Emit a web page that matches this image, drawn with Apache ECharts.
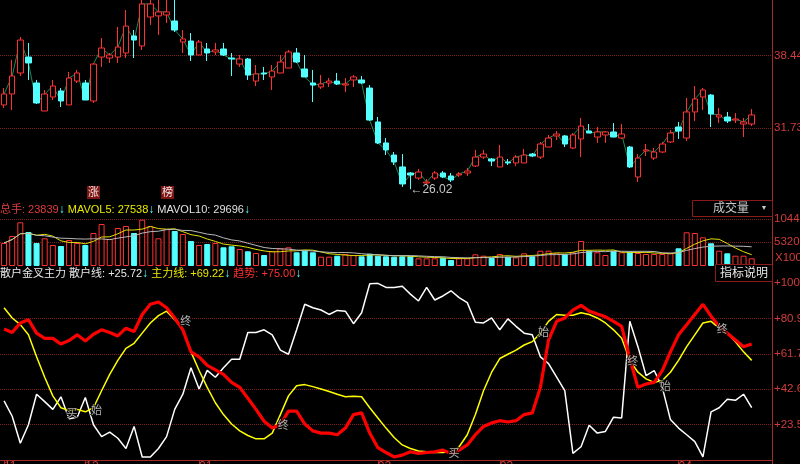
<!DOCTYPE html>
<html><head><meta charset="utf-8">
<script src="https://cdn.jsdelivr.net/npm/echarts@6/dist/echarts.min.js"></script>
<style>html,body{margin:0;padding:0;background:#000;}#c{width:800px;height:464px;}</style>
</head><body><div id="c"></div>
<script>
// ---- price data (one entry per trading day) ----
const opens = [33.85,34.87,36.82,38.30,35.89,33.29,34.59,35.15,33.85,36.07,35.89,34.22,38.30,38.21,38.30,38.68,40.26,39.33,42.02,42.12,42.21,41.65,39.70,39.79,38.49,39.05,38.77,39.05,38.21,37.65,38.12,36.07,36.82,36.45,36.82,37.28,38.68,37.19,35.89,35.52,35.89,36.07,35.70,36.17,36.17,35.42,32.27,30.32,29.20,28.09,27.53,27.06,26.60,27.06,27.53,27.25,27.34,27.53,28.18,29.01,28.83,28.09,28.55,28.46,28.46,29.29,29.01,29.94,30.97,30.97,29.85,30.69,31.43,30.87,31.06,31.34,30.78,29.94,27.16,29.57,28.92,29.48,30.41,31.80,30.78,33.20,34.59,34.77,32.73,32.73,32.45,32.08,32.08];
const closes = [34.87,36.54,39.88,37.75,34.03,34.87,35.61,34.22,36.35,36.82,34.31,37.65,39.14,38.49,39.23,41.18,39.88,43.23,43.23,42.49,42.49,40.81,39.98,38.49,39.70,38.68,38.96,38.49,38.12,38.12,36.63,36.73,36.73,37.00,37.84,38.77,37.84,36.45,35.70,35.80,36.07,35.80,35.80,36.45,35.89,32.45,30.32,29.67,28.55,26.51,27.34,27.62,26.69,27.53,27.16,26.88,27.44,27.71,29.01,29.29,28.64,29.01,28.46,29.01,29.20,29.11,30.22,30.78,31.15,30.22,31.06,31.89,31.24,31.34,31.34,30.87,31.15,28.09,28.92,29.67,29.48,30.22,31.24,31.43,33.20,34.40,35.24,33.01,32.92,32.36,32.54,32.27,32.92];
const lows = [33.57,33.38,36.54,36.17,33.94,33.29,34.31,33.66,33.85,35.89,34.31,34.03,37.38,37.75,37.75,38.21,38.21,38.96,41.28,40.35,41.46,40.63,38.68,37.93,38.49,37.93,38.49,38.40,36.54,37.38,36.17,35.61,36.17,35.24,36.82,37.28,37.75,36.45,34.12,35.33,35.52,35.70,35.05,35.52,35.80,32.36,30.22,29.20,28.27,26.23,26.02,26.88,26.51,26.88,27.06,26.69,27.16,27.25,28.09,28.83,28.18,28.09,28.27,28.18,28.46,29.01,28.83,29.94,30.59,29.94,29.76,29.01,31.24,30.32,30.32,30.87,30.69,27.99,26.69,29.11,28.74,29.39,30.32,30.69,30.50,32.36,33.38,31.80,32.17,32.17,32.17,30.87,31.89];
const highs = [35.42,38.03,40.16,39.61,36.17,35.24,36.17,35.42,36.91,37.10,36.17,37.75,40.07,38.68,41.09,42.67,40.81,43.90,43.90,43.90,43.90,43.90,40.81,40.53,39.88,39.61,39.61,39.61,38.68,38.49,38.21,37.56,37.38,37.56,38.49,38.96,39.14,38.49,37.10,36.63,36.35,36.82,36.35,36.63,36.54,35.70,32.73,30.78,29.48,29.29,27.62,27.90,26.97,27.71,27.71,27.53,27.62,27.99,29.67,29.67,28.92,30.13,28.83,29.20,29.76,29.39,30.41,31.06,31.43,31.06,31.24,32.64,32.08,31.80,31.43,32.17,32.08,30.04,29.29,30.22,29.85,30.41,31.52,32.27,34.50,35.61,35.42,34.87,33.57,33.20,33.10,32.64,33.47];
const volumes = [5109,6663,9706,7552,5109,6152,4664,4442,5775,5109,4664,7330,9329,5997,8440,8884,7330,10300,8884,6152,8218,7774,7107,5553,4664,4886,5109,4153,4375,3776,3265,2887,2443,3332,3931,4153,3043,3398,3043,2066,2066,2288,2665,2443,2154,2732,2288,2154,2066,2154,2154,1710,1710,1710,1843,1333,1710,1710,2599,2288,1777,2665,2066,1932,2821,2154,3398,3398,2821,2599,3043,5553,3398,3043,2443,3398,3043,3176,2887,2665,2665,2665,2821,3931,7485,7330,6374,5042,3398,2821,2288,2288,1710];
// ---- indicator lines ----
const retailLine = [36.3,28.0,13.4,23.4,39.9,35.9,31.7,38.5,26.7,27.5,38.1,23.4,17.0,19.4,16.1,10.6,22.5,6.0,6.0,10.6,17.0,31.7,39.9,54.2,42.7,52.8,49.1,54.2,58.8,58.8,73.3,73.3,74.7,72.0,63.7,61.5,74.7,88.5,86.6,85.4,83.0,85.2,84.8,78.0,83.9,99.6,99.8,97.6,97.6,98.2,94.0,90.3,97.6,90.8,93.0,95.8,92.1,89.4,78.8,78.4,81.1,74.7,80.6,76.6,72.9,72.0,60.1,56.4,49.1,41.8,7.9,11.5,23.1,18.9,19.8,27.5,27.1,79.3,65.6,50.0,52.7,43.6,26.2,21.6,18.0,14.3,6.0,30.4,32.6,37.2,36.6,39.9,32.6];
const mainLine = [86.6,81.1,77.5,72.0,60.1,49.1,39.0,32.6,31.1,31.7,30.4,32.6,41.8,50.6,58.2,64.7,67.4,72.9,78.4,82.4,84.8,80.2,74.7,62.8,52.7,43.6,35.3,28.9,23.8,20.1,17.6,15.8,15.8,18.9,28.9,39.0,44.5,45.1,44.0,42.7,41.4,39.9,38.5,38.8,38.5,32.6,27.1,21.6,16.5,12.5,10.6,9.2,8.8,8.4,8.4,8.8,11.5,18.0,28.9,41.8,51.8,59.2,61.5,63.7,66.5,68.3,72.9,79.3,83.0,82.6,82.6,83.9,83.0,81.1,78.4,74.7,70.1,58.2,51.8,48.2,46.3,47.3,51.8,58.2,65.6,72.0,78.4,79.3,75.6,72.9,68.3,62.8,58.2];
const trendLine = [75.1,73.3,78.4,80.2,72.9,70.1,70.1,67.0,68.9,72.0,68.7,72.3,74.7,73.3,71.4,75.6,73.8,83.0,88.5,89.7,86.6,81.1,74.7,62.8,60.1,55.5,53.1,50.6,46.3,43.6,37.7,31.7,25.3,21.6,23.4,30.8,30.8,23.8,20.1,18.9,18.9,18.0,21.6,28.9,29.8,18.9,11.0,8.4,6.0,7.0,8.8,7.9,8.4,8.8,9.7,7.9,9.7,12.5,18.0,22.5,24.4,25.6,24.9,25.6,28.9,29.8,43.6,69.2,79.3,81.1,85.4,87.9,84.8,83.3,81.7,79.3,76.6,59.2,43.6,45.4,46.3,52.7,62.8,72.0,77.5,83.0,88.5,82.1,76.6,72.9,69.2,65.6,67.0];
// ---- annotations on the indicator panel ----
const annoIdx  = [8, 11, 22, 34, 55, 66, 77, 81, 88];
const annoVal  = [29.3, 31.0, 78.8, 22.8, 7.6, 72.8, 57.1, 44.0, 74.5];
const annoText = ['买', '始', '终', '终', '买', '始', '终', '始', '终'];
// ---- axis tick labels ----
const slotCount = 95;
const xTickIdx  = [0, 10, 24, 46, 61, 83];
const xTickText = ['11', '12', '01', '02', '03', '04'];
const priceTickLabels = ['31.73', '38.44'];
// ---- header readouts ----
const volReadout = [23839, 27538, 29696];
const idxReadout = [25.72, 69.22, 75.00];

const categories = Array.from({length: slotCount}, (_, i) => String(i + 1));
function movingAvg(arr, n) {
  return arr.map((_, i) => {
    const s = arr.slice(Math.max(0, i - n + 1), i + 1);
    return Math.round(s.reduce((a, b) => a + b, 0) / s.length);
  });
}
const ma5 = movingAvg(volumes, 5);
const ma10 = movingAvg(volumes, 10);
const candleData = opens.map((o, i) => [o, closes[i], lows[i], highs[i]]);
const lowVal = Math.min(...lows);
const lowIdx = lows.indexOf(lowVal);

const RED = '#ff3232', CYAN = '#54ffff', AXR = '#d23c3c', GRIDR = '#7a1e1e', LINER = '#a52a2a';
const FONT = '"Liberation Sans","Noto Sans CJK SC",sans-serif';
const T = 'rgba(0,0,0,0)';

const volData = volumes.map((v, i) => {
  const up = closes[i] >= opens[i];
  return { value: v, itemStyle: up ? { color: '#000', borderColor: RED, borderWidth: 1 } : { color: CYAN, borderColor: CYAN, borderWidth: 1 } };
});

const chart = echarts.init(document.getElementById('c'), null, { renderer: 'canvas' });
const gridBase = { left: 0, right: 28, containLabel: false, outerBoundsMode: 'none' };
const arrowStyle = { color: CYAN, fontSize: 12, fontWeight: 'bold', fontFamily: FONT };
const option = {
  backgroundColor: '#000',
  animation: false,
  textStyle: { fontFamily: FONT },
  title: [
    { left: 0, top: 204, padding: 0,
      text: `{r|总手: ${volReadout[0]}}{c|↓} {y|MAVOL5: ${volReadout[1]}}{c|↓} {w|MAVOL10: ${volReadout[2]}}{c|↓}`,
      textStyle: { fontSize: 11, fontFamily: FONT, fontWeight: 'normal', rich: {
        r: { color: '#e03c3c', fontSize: 11, fontFamily: FONT },
        y: { color: '#e8e800', fontSize: 11, fontFamily: FONT },
        w: { color: '#e0e0e0', fontSize: 11, fontFamily: FONT },
        c: arrowStyle } } },
    { left: 0, top: 268, padding: 0,
      text: `{w|散户金叉主力 散户线: +${idxReadout[0].toFixed(2)}}{c|↓} {y|主力线: +${idxReadout[1].toFixed(2)}}{c|↓} {r|趋势: +${idxReadout[2].toFixed(2)}}{c|↓}`,
      textStyle: { fontSize: 11, fontFamily: FONT, fontWeight: 'normal', rich: {
        r: { color: '#ff3030', fontSize: 11, fontFamily: FONT },
        y: { color: '#e8e800', fontSize: 11, fontFamily: FONT },
        w: { color: '#e8e8e8', fontSize: 11, fontFamily: FONT },
        c: arrowStyle } } }
  ],
  grid: [
    Object.assign({ top: 0, height: 200 }, gridBase),
    Object.assign({ top: 219, height: 47 }, gridBase),
    Object.assign({ top: 283, height: 177 }, gridBase)
  ],
  xAxis: [0, 1, 2].map(g => ({
    type: 'category', gridIndex: g, data: categories, boundaryGap: true,
    axisLine: { show: g === 2, lineStyle: { color: LINER } },
    axisTick: { show: g === 2, alignWithLabel: true, length: 4, interval: (i) => xTickIdx.includes(i), lineStyle: { color: LINER } },
    axisLabel: { show: g === 2, interval: (i) => xTickIdx.includes(i), formatter: (v, i) => { const k = xTickIdx.indexOf(i); return k >= 0 ? xTickText[k] : ''; }, color: AXR, fontSize: 12, align: 'left', margin: 1, fontFamily: FONT, hideOverlap: false },
    splitLine: { show: false }
  })),
  yAxis: [
    { type: 'value', gridIndex: 0, position: 'right', min: 25.02, max: 43.6, interval: 6.71,
      axisLine: { show: false }, axisTick: { show: false },
      axisLabel: { color: AXR, fontSize: 11.5, margin: 2, fontFamily: FONT, formatter: v => priceTickLabels.includes(v.toFixed(2)) ? v.toFixed(2) : '' },
      splitLine: { show: true, lineStyle: { color: [T, GRIDR, GRIDR, T], type: 'dotted' } } },
    { type: 'value', gridIndex: 1, position: 'right', min: 0, max: 10440, interval: 5320,
      axisLine: { show: false }, axisTick: { show: false },
      axisLabel: { color: AXR, fontSize: 11.5, margin: 2, fontFamily: FONT, formatter: v => v > 0 ? String(Math.round(v)) : '' },
      splitLine: { show: true, lineStyle: { color: [T, GRIDR, GRIDR], type: 'dotted' } } },
    { type: 'value', gridIndex: 2, position: 'right', min: 4.36, max: 100, interval: 19.128,
      axisLine: { show: false }, axisTick: { show: false },
      axisLabel: { color: AXR, fontSize: 11.5, margin: 2, fontFamily: FONT, formatter: v => v > 5 ? '+' + v.toFixed(1) : '' },
      splitLine: { show: true, lineStyle: { color: [T, GRIDR, GRIDR, GRIDR, GRIDR, T], type: 'dotted' } } }
  ],
  series: [
    { type: 'line', name: 'closeLine', xAxisIndex: 0, yAxisIndex: 0, data: closes, symbol: 'none', z: 1,
      lineStyle: { color: '#1f8a52', width: 1 } },
    { type: 'candlestick', xAxisIndex: 0, yAxisIndex: 0, data: candleData, barWidth: 6, z: 2,
      itemStyle: { color: '#000', color0: CYAN, borderColor: RED, borderColor0: CYAN, borderWidth: 1 },
      markPoint: { symbol: 'circle', symbolSize: 0, silent: true,
        data: [{ coord: [lowIdx, lowVal], value: lowVal }],
        label: { show: true, position: 'right', distance: 0, color: '#c8c8c8', fontSize: 12, fontFamily: FONT, formatter: p => '←' + p.value.toFixed(2) } } },
    { type: 'bar', xAxisIndex: 1, yAxisIndex: 1, data: volData, barWidth: 6 },
    { type: 'line', xAxisIndex: 1, yAxisIndex: 1, data: ma5, symbol: 'none', lineStyle: { color: '#e0e000', width: 1 } },
    { type: 'line', xAxisIndex: 1, yAxisIndex: 1, data: ma10, symbol: 'none', lineStyle: { color: '#b8b8b8', width: 1 } },
    { type: 'line', name: '散户线', xAxisIndex: 2, yAxisIndex: 2, data: retailLine, symbol: 'none', lineStyle: { color: '#ffffff', width: 1.5 } },
    { type: 'line', name: '主力线', xAxisIndex: 2, yAxisIndex: 2, data: mainLine, symbol: 'none', lineStyle: { color: '#ffff00', width: 1.5 } },
    { type: 'line', name: '趋势', xAxisIndex: 2, yAxisIndex: 2, data: trendLine, symbol: 'none', lineStyle: { color: '#ff0000', width: 3.2 } },
    { type: 'scatter', xAxisIndex: 2, yAxisIndex: 2, symbolSize: 0, z: 10, silent: true,
      data: annoIdx.map((i, k) => ({ value: [i, annoVal[k]], label: { formatter: annoText[k] } })),
      label: { show: true, position: 'inside', offset: [3, 0], color: '#dcdcdc', fontSize: 11, fontFamily: FONT, textBorderColor: '#000', textBorderWidth: 2 } }
  ],
  graphic: [
    { type: 'line', shape: { x1: 772.5, y1: 0, x2: 772.5, y2: 464 }, style: { stroke: LINER, lineWidth: 1 }, z: 100 },
    { type: 'rect', shape: { x: 692.5, y: 200.5, width: 80, height: 16 }, style: { fill: '#000', stroke: '#8b1a1a', lineWidth: 1 }, z: 100 },
    { type: 'text', x: 731, y: 209, style: { text: '成交量', fill: '#c8c8c8', font: '12px ' + FONT, align: 'center', verticalAlign: 'middle' }, z: 101 },
    { type: 'text', x: 764, y: 208, style: { text: '▼', fill: '#c8c8c8', font: '7px ' + FONT, align: 'center', verticalAlign: 'middle' }, z: 101 },
    { type: 'rect', shape: { x: 715.5, y: 264.5, width: 57, height: 17 }, style: { fill: '#000', stroke: '#8b1a1a', lineWidth: 1 }, z: 100 },
    { type: 'text', x: 744, y: 273.5, style: { text: '指标说明', fill: '#e8e8e8', font: '12px ' + FONT, align: 'center', verticalAlign: 'middle' }, z: 101 },
    { type: 'text', x: 775, y: 258, style: { text: 'X1000', fill: AXR, font: '11.5px ' + FONT, align: 'left', verticalAlign: 'middle' }, z: 101 },
    { type: 'rect', shape: { x: 87, y: 186, width: 13, height: 13 }, style: { fill: '#7d1414' }, z: 100 },
    { type: 'text', x: 93.5, y: 192.5, style: { text: '涨', fill: '#f0e0e0', font: '11px ' + FONT, align: 'center', verticalAlign: 'middle' }, z: 101 },
    { type: 'rect', shape: { x: 161, y: 186, width: 13, height: 13 }, style: { fill: '#7d1414' }, z: 100 },
    { type: 'text', x: 167.5, y: 192.5, style: { text: '榜', fill: '#f0e0e0', font: '11px ' + FONT, align: 'center', verticalAlign: 'middle' }, z: 101 }
  ]
};
chart.setOption(option);
</script></body></html>
